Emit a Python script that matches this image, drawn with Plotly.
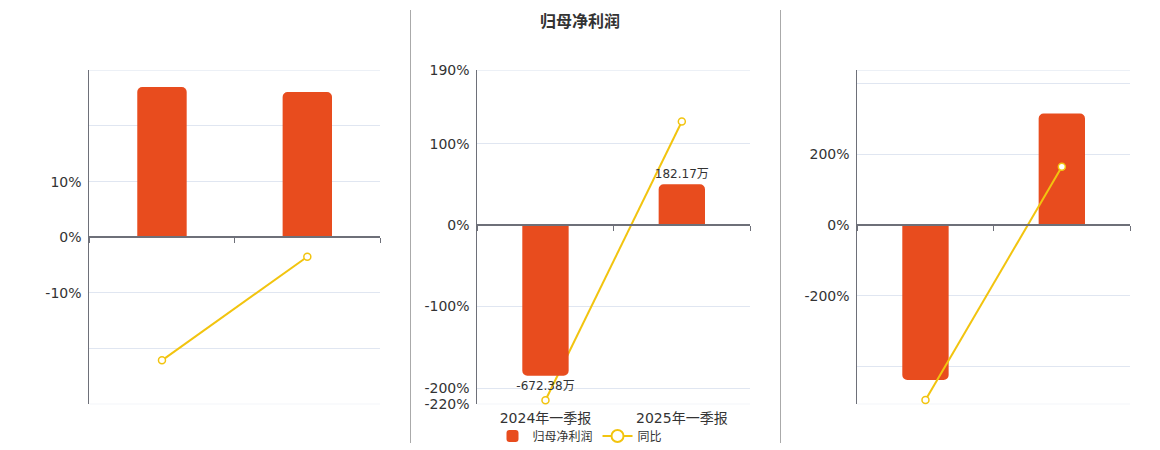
import plotly.graph_objects as go

# ---- data ----
categories = ["2024年一季报", "2025年一季报"]

# left panel (values on the percent scale)
left_bars = [27.0, 26.1]
left_yoy = [-22.1, -3.5]
left_tickvals = [-30, -20, -10, 0, 10, 20, 30]
left_ticktext = ["", "", "-10%", "0%", "10%", "", ""]

# middle panel: 归母净利润 (万) and 同比 (%)
profit_wan = [-672.38, 182.17]
profit_yoy = [-215.0, 127.1]
mid_tickvals = [-220, -200, -100, 0, 100, 190]
mid_ticktext = ["-220%", "-200%", "-100%", "0%", "100%", "190%"]
profit_axis_min = -800.0  # 万, aligned with the -220% end of the percent axis

# right panel (values on the percent scale)
right_bars = [-438.0, 316.0]
right_yoy = [-495.0, 165.0]
right_tickvals = [-507, -400, -200, 0, 200, 400, 438]
right_ticktext = ["", "", "-200%", "0%", "200%", "", ""]

# ---- styling ----
W, H = 1160, 450
BAR = "#E84C1E"
LINE = "#F2C40F"
AXIS = "#6E7079"
GRID = "#E0E6F1"
TXT = "#333333"
FONT = "DejaVu Sans, Noto Sans CJK SC, sans-serif"

y_dom = [1 - 404.3 / H, 1 - 70.3 / H]
x_doms = [
    [89.3 / W, 380.0 / W],
    [477.3 / W, 750.0 / W],
    [857.3 / W, 1130.0 / W],
]


def zero_pos(lo, hi):
    """Paper-y position of the value 0 on an axis spanning [lo, hi]."""
    return y_dom[0] + (0 - lo) / (hi - lo) * (y_dom[1] - y_dom[0])


fig = go.Figure()

panels = [
    ("x", "y", left_bars, left_yoy, left_tickvals, left_ticktext, None),
    ("x2", "y2", None, profit_yoy, mid_tickvals, mid_ticktext, "y3"),
    ("x4", "y4", right_bars, right_yoy, right_tickvals, right_ticktext, None),
]

for i, (xa, ya, bars, yoy, tv, tt, bar_axis) in enumerate(panels):
    lo, hi = tv[0], tv[-1]
    is_mid = bar_axis is not None
    if is_mid:
        fig.add_trace(go.Bar(
            x=categories, y=profit_wan, xaxis=xa, yaxis=bar_axis,
            name="归母净利润", marker=dict(color=BAR, line=dict(width=0)),
            width=0.34,
            text=[f"{v:.2f}万" for v in profit_wan],
            textposition="outside", cliponaxis=False, constraintext="none",
            textfont=dict(size=12, color=TXT, family=FONT),
            hoverinfo="skip", showlegend=True,
        ))
    else:
        fig.add_trace(go.Bar(
            x=categories, y=bars, xaxis=xa, yaxis=ya,
            marker=dict(color=BAR, line=dict(width=0)), width=0.34,
            hoverinfo="skip", showlegend=False,
        ))
    fig.add_trace(go.Scatter(
        x=categories, y=yoy, xaxis=xa, yaxis=ya, mode="lines+markers",
        name="同比", line=dict(color=LINE, width=2),
        marker=dict(symbol="circle", size=7, color="white",
                    line=dict(color=LINE, width=1.5)),
        cliponaxis=False, showlegend=False, hoverinfo="skip",
    ))

    xkey = "xaxis" if xa == "x" else "xaxis" + xa[1:]
    ykey = "yaxis" if ya == "y" else "yaxis" + ya[1:]
    fig.layout[xkey] = dict(
        domain=x_doms[i], anchor="free", position=zero_pos(lo, hi),
        type="category", range=[-0.5, 1.5],
        showline=True, linecolor=AXIS, linewidth=2,
        ticks="outside", tickson="boundaries", ticklen=5, tickcolor=AXIS,
        tickwidth=1, showticklabels=False, showgrid=False, zeroline=False,
    )
    fig.layout[ykey] = dict(
        domain=y_dom, anchor=xa, range=[lo, hi],
        tickmode="array", tickvals=tv, ticktext=tt,
        showline=True, linecolor=AXIS, linewidth=1,
        showgrid=True, gridcolor=GRID, gridwidth=1, zeroline=False,
        ticks="", ticklabelstandoff=4,
        tickfont=dict(size=14, color=TXT, family=FONT),
    )
    # grid lines at both ends of the value range
    xref = xa + " domain"
    for v in (lo, hi):
        fig.add_shape(type="line", xref=xref, yref=ya, x0=0, x1=1, y0=v, y1=v,
                      line=dict(color=GRID, width=1), layer="below")

# legend entry for the 同比 line, drawn with a larger hollow marker
fig.add_trace(go.Scatter(
    x=[None], y=[None], xaxis="x2", yaxis="y2", mode="lines+markers",
    name="同比", line=dict(color=LINE, width=2),
    marker=dict(symbol="circle", size=12, color="white",
                line=dict(color=LINE, width=2)),
    showlegend=True, hoverinfo="skip",
))

# hidden amount axis for the profit bars, sharing the zero of the percent axis
mid_lo, mid_hi = mid_tickvals[0], mid_tickvals[-1]
profit_axis_max = profit_axis_min * mid_hi / mid_lo
fig.layout.yaxis3 = dict(
    overlaying="y2", anchor="x2", range=[profit_axis_min, profit_axis_max],
    visible=False, showgrid=False, zeroline=False,
)
# category labels along the bottom of the middle panel
fig.add_trace(go.Scatter(
    x=[0, 1], y=[0, 0], xaxis="x3", yaxis="y2", mode="markers",
    marker=dict(opacity=0, size=1), hoverinfo="skip", showlegend=False,
))
fig.layout.xaxis3 = dict(
    overlaying="x2", anchor="y2", side="bottom", type="linear",
    range=[-0.5, 1.5], tickmode="array", tickvals=[0, 1],
    ticktext=categories, showline=False, showgrid=False, zeroline=False,
    ticks="", ticklabelstandoff=4,
    tickfont=dict(size=14, color=TXT, family=FONT),
)

# panel separators
for xpx in (410.5, 780.5):
    fig.add_shape(type="line", xref="paper", yref="paper",
                  x0=xpx / W, x1=xpx / W, y0=1 - 10 / H, y1=1 - 443 / H,
                  line=dict(color="#AAAAAA", width=1))

fig.add_annotation(text="<b>归母净利润</b>", xref="paper", yref="paper",
                   x=580 / W, y=1 - 22 / H, xanchor="center", yanchor="middle",
                   showarrow=False,
                   font=dict(size=16, color=TXT, family=FONT))

fig.update_layout(
    width=W, height=H,
    margin=dict(l=0, r=0, t=0, b=0, autoexpand=False),
    paper_bgcolor="white", plot_bgcolor="white",
    barcornerradius=5, bargap=0.66,
    font=dict(family=FONT, color=TXT),
    legend=dict(orientation="h", x=580 / W, xanchor="center",
                y=1 - 436 / H, yanchor="middle",
                font=dict(size=12, color=TXT, family=FONT),
                bgcolor="rgba(0,0,0,0)", itemwidth=30),
)

fig.write_html("out.html")
